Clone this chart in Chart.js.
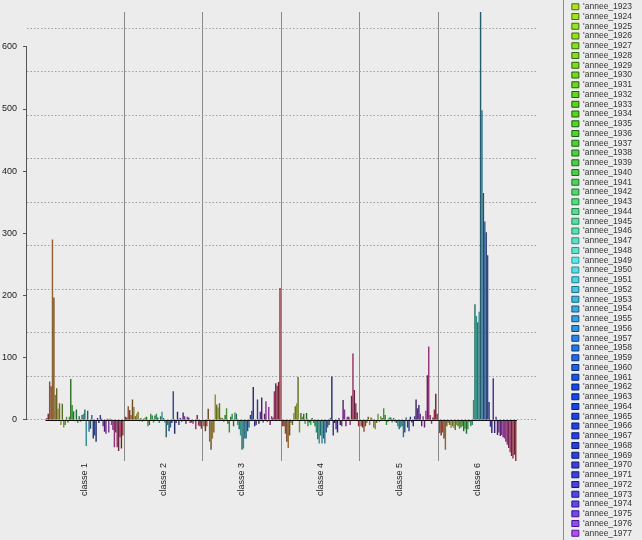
<!DOCTYPE html>
<html>
<head>
<meta charset="utf-8">
<script src="https://cdn.jsdelivr.net/npm/chart.js@4/dist/chart.umd.min.js"></script>
<style>
html,body{margin:0;padding:0;background:#ececec;}
#wrap{width:642px;height:540px;position:relative;background:#ececec;}
canvas{display:block;}
</style>
</head>
<body>
<div id="wrap"><canvas id="c" width="642" height="540"></canvas></div>
<script>
// ---------- DATA ----------
const classes = ['classe 1', 'classe 2', 'classe 3', 'classe 4', 'classe 5', 'classe 6'];

const years = [1923,1924,1925,1926,1927,1928,1929,1930,1931,1932,
               1933,1934,1935,1936,1937,1938,1939,1940,1941,1942,
               1943,1944,1945,1946,1947,1948,1949,1950,1951,1952,
               1953,1954,1955,1956,1957,1958,1959,1960,1961,1962,
               1963,1964,1965,1966,1967,1968,1969,1970,1971,1972,
               1973,1974,1975,1976,1977];

const classe1 = [3, 10, 62, 54, 290, 197, 40, 51, 18, 27,
                 -8, 26, -12, -8, 5, -4, 5, 66, 24, 14,
                 -2, 17, -5, 6, -3, 8, 10, 17, -42, 15,
                 -19, -14, 8, -30, -25, -35, 3, -5, 8, 2,
                 -10, -19, -22, 2, -20, 2, -8, -16, -44, -20,
                 -44, -50, -28, -46, -25];
const classe2 = [5, 4, 22, 16, 8, 33, 21, 6, 10, 13,
                 -2, 3, -3, 2, 4, 5, -10, -8, 10, 7,
                 -4, 7, 10, 4, -5, 6, 13, 3, -4, -28,
                 -8, -18, -12, -5, 46, -22, -5, 13, -8, 3,
                 -3, 12, 6, -6, 5, 4, -5, -4, -6, -2,
                 -15, 8, -9, -10, -14];
const classe3 = [-10, -18, -10, 18, -35, -48, -30, -20, 41, 25,
                 20, 27, 4, 3, -3, 8, 19, -6, -20, 5,
                 10, -10, 12, 10, -8, -15, -25, -48, -46, -30,
                 -30, -18, -12, 8, 15, 53, -10, -8, 33, -6,
                 13, 36, -4, 10, 30, -3, 21, -8, 6, 4,
                 46, 59, 55, 61, 212];
const classe4 = [-10, -10, -22, -35, -45, -25, -5, -8, 11, 22,
                 27, 69, -20, 11, 5, 10, -6, 11, -10, -4,
                 -8, 3, -5, -10, -20, -31, -38, -25, -38, -30,
                 -38, -20, -12, -8, 3, 70, -25, -5, -15, -20,
                 3, -8, -10, 32, 17, -10, 5, 5, -8, 39,
                 107, 48, 27, 12, -10];
const classe5 = [-10, -12, -19, -10, -5, 5, -8, 4, 2, -12,
                 -15, -5, 10, -3, 6, 3, 19, 8, -8, -3,
                 4, 4, -4, 3, -3, -5, -10, -15, -12, -10,
                 -28, -20, 4, -12, -18, 5, -4, -10, 6, 33,
                 19, 24, 10, -10, 6, -12, 15, 72, 118, 8,
                 -6, 4, 17, 42, 10];
const classe6 = [-21, -25, -20, -30, -48, -10, -5, -8, -13, -10,
                 -13, -16, -8, -10, -14, -12, -10, -18, -14, -22,
                 -15, -3, -10, -8, 32, 186, 167, 157, 174, 656,
                 498, 365, 319, 302, 265, 29, -11, -21, 67, -21,
                 5, -24, -20, -26, -24, -28, -30, -35, -40, -45,
                 -52, -58, -62, -56, -66];

const classValues = [classe1, classe2, classe3, classe4, classe5, classe6];

// y tick step (labels) and dotted grid step
const yTickStep = 100;
const yGridStep = 70;

// ---------- STYLE HELPERS ----------
const FONT = "'Liberation Sans', Arial, Helvetica, sans-serif";
Chart.defaults.font.family = FONT;

function barColor(i) {
  const h = (5 + i * 6.5) % 360;
  const l = (i % 2) ? 28 : 38;
  return 'hsl(' + h + ',52%,' + l + '%)';
}
// legend palette anchors (index -> [h,s,l])
const legendAnchors = [
  [0, 78, 78, 52], [5, 90, 76, 50], [10, 100, 78, 47], [17, 120, 55, 55],
  [20, 140, 62, 60], [23, 160, 62, 62], [26, 180, 70, 65], [31, 200, 72, 56],
  [35, 215, 85, 53], [39, 225, 86, 50], [45, 232, 78, 52], [49, 240, 70, 57],
  [52, 258, 80, 60], [54, 272, 80, 63]
];
function legendHSL(i) {
  for (let k = 0; k < legendAnchors.length - 1; k++) {
    const a = legendAnchors[k], b = legendAnchors[k + 1];
    if (i >= a[0] && i <= b[0]) {
      const t = (i - a[0]) / (b[0] - a[0]);
      return [a[1] + t * (b[1] - a[1]), a[2] + t * (b[2] - a[2]), a[3] + t * (b[3] - a[3])];
    }
  }
  const z = legendAnchors[legendAnchors.length - 1];
  return [z[1], z[2], z[3]];
}

// ---------- DATASETS ----------
const datasets = years.map((yr, i) => ({
  label: "'annee_" + yr,
  data: classValues.map((arr, k) => ({ x: k + 1, y: arr[i] })),
  backgroundColor: barColor(i),
  borderWidth: 0,
  categoryPercentage: 0.985,
  barPercentage: 1.0,
  xAxisID: 'x',
  yAxisID: 'y'
}));

const allVals = classValues.flat();
const yMin = Math.min(...allVals);
const yMax = Math.max(...allVals);
const xPad = 0.736;

const decor = {
  id: 'decor',
  afterDatasetsDraw(chart) {
    const ctx = chart.ctx, xs = chart.scales.x, ys = chart.scales.y;
    const y0 = Math.round(ys.getPixelForValue(0)) + 0.5;
    ctx.save();
    ctx.strokeStyle = '#111';
    ctx.lineWidth = 1;
    ctx.beginPath();
    ctx.moveTo(xs.getPixelForValue(0.5), y0);
    ctx.lineTo(xs.getPixelForValue(classes.length + 0.5), y0);
    ctx.stroke();
    ctx.restore();
  },
  afterDraw(chart) {
    const ctx = chart.ctx, ys = chart.scales.y;
    const t = ys.ticks;
    const xa = Math.round(chart.chartArea.left) - 0.5;
    ctx.save();
    ctx.strokeStyle = '#555';
    ctx.lineWidth = 1;
    ctx.beginPath();
    ctx.moveTo(xa, ys.getPixelForValue(t[0].value));
    ctx.lineTo(xa, ys.getPixelForValue(t[t.length - 1].value));
    ctx.stroke();
    // legend separator
    const lg = chart.legend;
    const lx = Math.round(lg.left - 8) + 0.5;
    ctx.strokeStyle = '#8c8c8c';
    ctx.beginPath();
    ctx.moveTo(lx, 0);
    ctx.lineTo(lx, chart.height);
    ctx.stroke();
    ctx.restore();
  }
};

new Chart(document.getElementById('c'), {
  type: 'bar',
  data: { datasets },
  plugins: [decor],
  options: {
    responsive: false,
    animation: false,
    devicePixelRatio: 1,
    layout: { padding: { left: 0, right: 0, top: 0, bottom: 0 } },
    plugins: {
      title: { display: true, text: ' ', padding: { top: 0, bottom: 0 }, font: { size: 12, lineHeight: 1 } },
      tooltip: { enabled: false },
      legend: {
        position: 'right',
        align: 'center',
        labels: {
          boxWidth: 7,
          boxHeight: 6,
          padding: 1.25,
          color: '#333',
          font: { size: 8.5, family: FONT },
          generateLabels(chart) {
            return chart.data.datasets.map((ds, i) => {
              const c = legendHSL(i);
              return {
                text: ds.label,
                fillStyle: 'hsl(' + c[0] + ',' + c[1] + '%,' + c[2] + '%)',
                strokeStyle: 'hsl(' + c[0] + ',' + c[1] + '%,' + Math.max(c[2] - 28, 10) + '%)',
                lineWidth: 1,
                hidden: false,
                datasetIndex: i,
                fontColor: '#333'
              };
            });
          }
        }
      }
    },
    scales: {
      x: {
        type: 'linear',
        offset: false,
        min: 1 - xPad,
        max: classes.length + xPad,
        afterBuildTicks: s => { s.ticks = classes.map((c, k) => ({ value: k + 1 })); },
        afterFit: s => { s.height = 79; },
        ticks: {
          autoSkip: false,
          minRotation: 90,
          maxRotation: 90,
          padding: 2,
          color: '#222',
          font: { size: 9 },
          callback: v => classes[v - 1]
        },
        grid: {
          offset: true,
          drawTicks: false,
          lineWidth: 1,
          color: ctx => (ctx.type !== 'tick' || ctx.index === 0) ? 'rgba(0,0,0,0)' : '#8a8a8a'
        },
        border: { display: false }
      },
      y: {
        position: 'left',
        min: yMin,
        max: yMax,
        afterFit: s => { s.width = 27; },
        ticks: { stepSize: yTickStep, includeBounds: false, padding: 6, color: '#222', font: { size: 9 } },
        grid: { drawOnChartArea: false, tickLength: 4, color: '#555' },
        border: { display: false }
      },
      g: {
        position: 'right',
        min: yMin,
        max: yMax,
        afterFit: s => { s.width = 35; },
        ticks: { display: false, stepSize: yGridStep, includeBounds: false },
        grid: { drawTicks: false, color: '#a0a0a0', lineWidth: 1 },
        border: { display: false, dash: [1.5, 2] }
      }
    }
  }
});
</script>
</body>
</html>
